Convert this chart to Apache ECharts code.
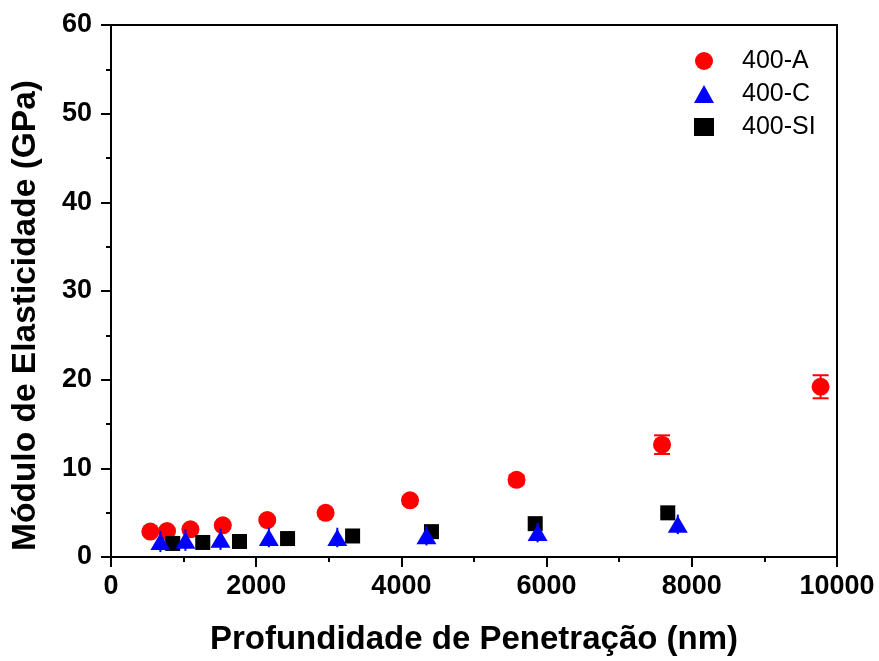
<!DOCTYPE html>
<html>
<head>
<meta charset="utf-8">
<script src="https://cdn.jsdelivr.net/npm/echarts@6/dist/echarts.min.js"></script>
<style>
html,body{margin:0;padding:0;background:#fff;}
#c{width:879px;height:661px;}
</style>
</head>
<body>
<div id="c"></div>
<script>
// 400-A
var aX = [542, 772, 1094, 1540, 2152, 2956, 4119, 5586, 7590, 9774];
var aY = [2.87, 2.93, 3.12, 3.57, 4.16, 4.98, 6.39, 8.70, 12.67, 19.2];
var aErr = [0.3, 0.3, 0.3, 0.3, 0.3, 0.3, 0.4, 0.5, 1.05, 1.3];
// 400-C
var cX = [680, 1025, 1508, 2174, 3117, 4345, 5876, 7807];
var cY = [1.75, 1.9, 2.0, 2.2, 2.2, 2.4, 2.75, 3.68];
var cErr = [1.2, 1.2, 1.2, 1.1, 1.1, 1.1, 1.1, 1.1];
// 400-SI
var sX = [850, 1264, 1770, 2432, 3328, 4414, 5843, 7669];
var sY = [1.53, 1.64, 1.75, 2.08, 2.37, 2.86, 3.76, 4.98];
var sErr = [0.35, 0.35, 0.35, 0.35, 0.35, 0.35, 0.35, 0.35];

var xTicks = [0, 2000, 4000, 6000, 8000, 10000];
var yTicks = [0, 10, 20, 30, 40, 50, 60];

function pts(xs, ys) { return xs.map(function (x, i) { return [x, ys[i]]; }); }
function errs(xs, ys, es) { return xs.map(function (x, i) { return [x, ys[i] - es[i], ys[i] + es[i]]; }); }

function errSeries(name, xs, ys, es, color, capW, z) {
  return {
    type: 'custom',
    name: name + '-err',
    z: z,
    data: errs(xs, ys, es),
    renderItem: function (params, api) {
      var x = api.value(0);
      var lo = api.coord([x, api.value(1)]);
      var hi = api.coord([x, api.value(2)]);
      var st = { stroke: color, lineWidth: 2 };
      var ch = [{ type: 'line', shape: { x1: lo[0], y1: lo[1], x2: hi[0], y2: hi[1] }, style: st }];
      if (capW > 0) {
        ch.push({ type: 'line', shape: { x1: lo[0] - capW / 2, y1: lo[1], x2: lo[0] + capW / 2, y2: lo[1] }, style: st });
        ch.push({ type: 'line', shape: { x1: hi[0] - capW / 2, y1: hi[1], x2: hi[0] + capW / 2, y2: hi[1] }, style: st });
      }
      return { type: 'group', children: ch };
    },
    silent: true
  };
}

var FF = '"Liberation Sans", Arial, sans-serif';
var axisFont = { fontFamily: FF, fontWeight: 'bold', fontSize: 27, color: '#000' };
var chart = echarts.init(document.getElementById('c'), null, { renderer: 'canvas' });
chart.setOption({
  animation: false,
  backgroundColor: '#fff',
  grid: { left: 111, right: 42, top: 25, bottom: 98, show: true, borderColor: '#000', borderWidth: 2 },
  legend: {
    orient: 'vertical', left: 689, top: 43, itemGap: 7, itemWidth: 20, itemHeight: 18,
    data: [{ name: '400-A', icon: 'circle' }, { name: '400-C', icon: 'triangle' }, { name: '400-SI', icon: 'rect' }],
    textStyle: { fontFamily: FF, fontSize: 25, lineHeight: 26, color: '#000', padding: [0, 0, 0, 23] }
  },
  xAxis: {
    type: 'value', min: 0, max: 10000, interval: 2000,
    axisLine: { show: true, onZero: false, lineStyle: { color: '#000', width: 2 } },
    axisTick: { show: true, length: 10, lineStyle: { color: '#000', width: 2 } },
    minorTick: { show: true, splitNumber: 2, length: 5, lineStyle: { color: '#000', width: 2 } },
    splitLine: { show: false },
    axisLabel: Object.assign({ margin: 16, formatter: function (v) { return xTicks.indexOf(v) >= 0 ? String(v) : ''; } }, axisFont),
    name: 'Profundidade de Penetração (nm)', nameLocation: 'middle', nameGap: 66,
    nameTextStyle: { fontFamily: FF, fontWeight: 'bold', fontSize: 33, color: '#000' }
  },
  yAxis: {
    type: 'value', min: 0, max: 60, interval: 10,
    axisLine: { show: true, onZero: false, lineStyle: { color: '#000', width: 2 } },
    axisTick: { show: true, length: 10, lineStyle: { color: '#000', width: 2 } },
    minorTick: { show: true, splitNumber: 2, length: 5, lineStyle: { color: '#000', width: 2 } },
    splitLine: { show: false },
    axisLabel: Object.assign({ margin: 19, formatter: function (v) { return yTicks.indexOf(v) >= 0 ? String(v) : ''; } }, axisFont)
  },
  graphic: [{
    type: 'text', left: 9, top: 80, rotation: Math.PI / 2,
    style: { text: 'Módulo de Elasticidade (GPa)', font: 'bold 33.5px "Liberation Sans", Arial, sans-serif', fill: '#000' }
  }],
  series: [
    errSeries('400-A', aX, aY, aErr, '#ff0000', 16, 2),
    { type: 'scatter', name: '400-A', z: 3, data: pts(aX, aY), symbol: 'circle', symbolSize: 18, itemStyle: { color: '#ff0000', opacity: 1 } },
    errSeries('400-SI', sX, sY, sErr, '#000000', 14, 4),
    { type: 'scatter', name: '400-SI', z: 5, data: pts(sX, sY), symbol: 'rect', symbolSize: 15, itemStyle: { color: '#000000', opacity: 1 } },
    errSeries('400-C', cX, cY, cErr, '#0000ff', 0, 6),
    { type: 'scatter', name: '400-C', z: 7, data: pts(cX, cY), symbol: 'triangle', symbolSize: [20, 17], itemStyle: { color: '#0000ff', opacity: 1 } }
  ]
});
</script>
</body>
</html>
